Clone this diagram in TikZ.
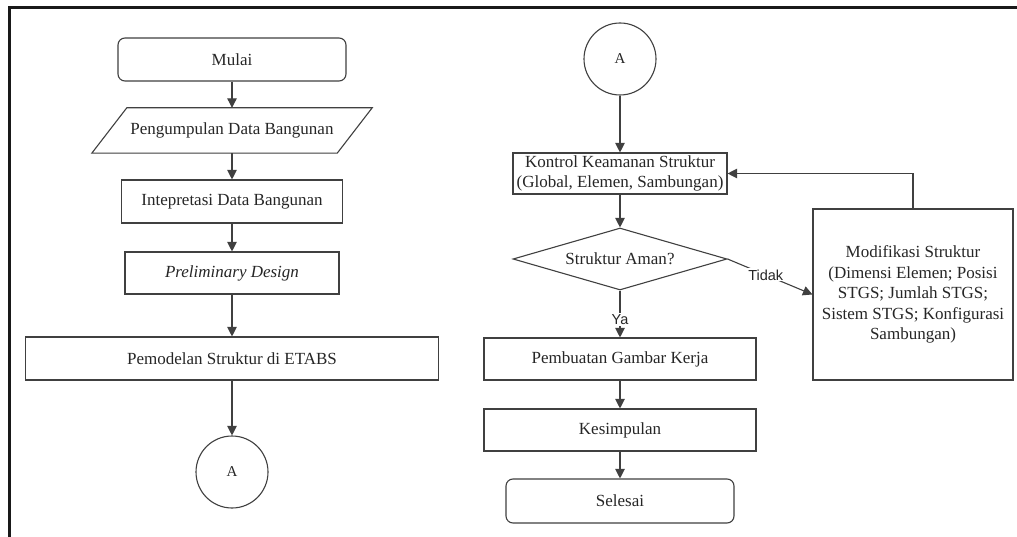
\documentclass[tikz,border=0pt]{standalone}
\usepackage{fontspec}
\setmainfont{Liberation Serif}
\newfontfamily\lsans{Liberation Sans}
\usetikzlibrary{shapes.geometric,arrows.meta,calc}
\begin{document}
\begin{tikzpicture}[x=1pt,y=-1pt,
  every node/.style={font=\fontsize{17}{20.5}\selectfont, text=black!85, inner sep=0pt},
  boxst/.style={draw=black!75, line width=1.1pt, align=center},
  procbox/.style={boxst, rectangle},
  termbox/.style={boxst, rectangle, rounded corners=7pt},
  conn/.style={boxst, circle, minimum size=72pt, font=\fontsize{15}{18}\selectfont},
  decision/.style={boxst, diamond, aspect=3.45},
  arr/.style={line width=1.1pt, draw=black!75, -{Triangle[width=9.5pt,length=9.5pt]}},
  lbl/.style={font=\lsans\fontsize{14.5}{16}\selectfont, fill=white, inner sep=1.2pt}
]
\useasboundingbox (0,0) rectangle (1017,537);
\fill[white] (0,0) rectangle (1017,537);
\draw[line width=3pt, black!90] (1017,8) -- (9,8) -- (9,537);

% left column
\node[termbox, minimum width=228pt, minimum height=43pt] (mulai) at (232,59.5) {Mulai};
\node[minimum width=210pt, minimum height=45pt] (data) at (232,130.5) {Pengumpulan Data Bangunan};
\draw[line width=1.1pt, black!75] ($(data.south west)+(-35,0)$) -- (data.north west) -- ($(data.north east)+(35,0)$) -- (data.south east) -- cycle;
\node[procbox, minimum width=221pt, minimum height=43pt] (interp) at (232,201.5) {Intepretasi Data Bangunan};
\node[procbox, minimum width=214pt, minimum height=42pt] (prelim) at (232,273) {\textit{Preliminary Design}};
\node[procbox, minimum width=413pt, minimum height=43pt] (model) at (232,358.5) {Pemodelan Struktur di ETABS};
\node[conn] (a1) at (232,472) {A};

% right column
\node[conn] (a2) at (620,59) {A};
\node[procbox, minimum width=214pt, minimum height=41pt] (kontrol) at (620,173.5) {Kontrol Keamanan Struktur\\(Global, Elemen, Sambungan)};
\node[decision, minimum width=214pt, minimum height=62pt] (aman) at (620,259) {Struktur Aman?};
\node[procbox, minimum width=272pt, minimum height=42pt] (gambar) at (620,359) {Pembuatan Gambar Kerja};
\node[procbox, minimum width=272pt, minimum height=42pt] (kesim) at (620,430) {Kesimpulan};
\node[termbox, minimum width=228pt, minimum height=44pt] (selesai) at (620,501) {Selesai};
\node[procbox, minimum width=200pt, minimum height=171pt] (modif) at (913,294.5) {Modifikasi Struktur\\(Dimensi Elemen; Posisi\\STGS; Jumlah STGS;\\Sistem STGS; Konfigurasi\\Sambungan)};

% connectors
\draw[arr] (mulai) -- (data);
\draw[arr] (data) -- (interp);
\draw[arr] (interp) -- (prelim);
\draw[arr] (prelim) -- (model);
\draw[arr] (model) -- (a1);
\draw[arr] (a2) -- (kontrol);
\draw[arr] (kontrol) -- (aman);
\draw[arr] (aman) -- node[lbl, pos=0.62] {Ya} (gambar);
\draw[arr] (gambar) -- (kesim);
\draw[arr] (kesim) -- (selesai);
\draw[arr] (aman.east) -- node[lbl, pos=0.45] {Tidak} (modif.west);
\draw[arr] (modif.north) |- (kontrol.east);
\end{tikzpicture}
\end{document}
